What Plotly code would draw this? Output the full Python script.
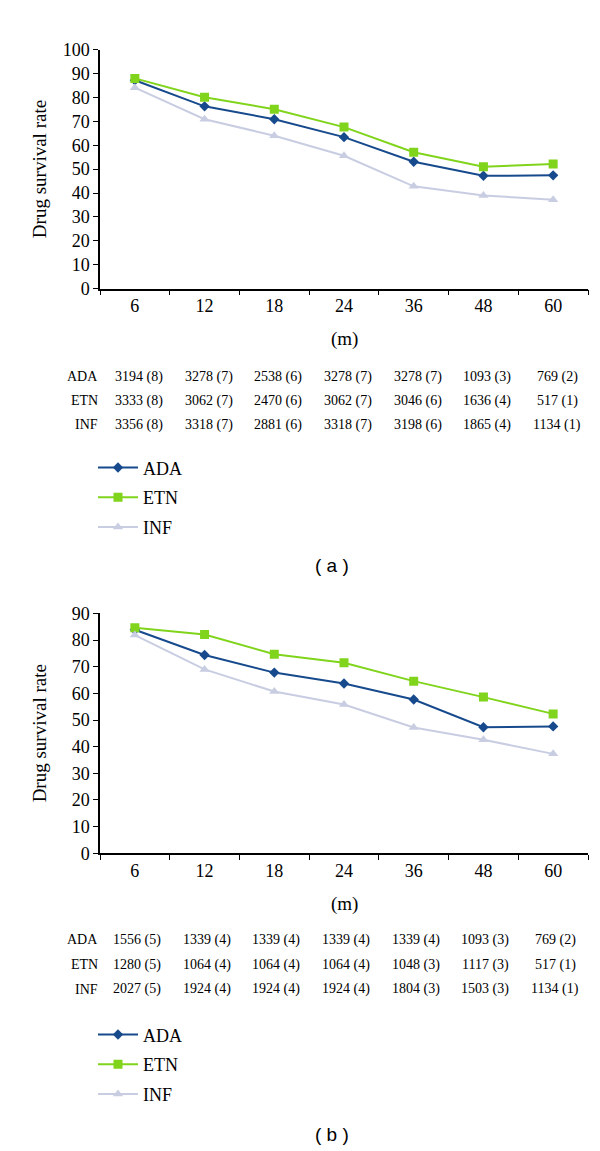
import plotly.graph_objects as go

W, H = 600, 1151

months = ["6", "12", "18", "24", "36", "48", "60"]
series_names = ["ADA", "ETN", "INF"]

# Panel (a) drug survival rates
a_ada = [87.2, 76.3, 70.9, 63.4, 53.1, 47.2, 47.4]
a_etn = [88.0, 80.1, 75.1, 67.6, 57.1, 51.0, 52.2]
a_inf = [84.1, 70.9, 64.0, 55.6, 42.8, 39.0, 37.2]

# Panel (b) drug survival rates
b_ada = [83.9, 74.4, 67.8, 63.7, 57.7, 47.3, 47.6]
b_etn = [84.6, 82.1, 74.7, 71.5, 64.6, 58.6, 52.3]
b_inf = [81.9, 69.0, 60.7, 55.8, 47.2, 42.6, 37.3]

# Number-at-risk tables
a_tab_ada = ["3194 (8)", "3278 (7)", "2538 (6)", "3278 (7)", "3278 (7)", "1093 (3)", "769 (2)"]
a_tab_etn = ["3333 (8)", "3062 (7)", "2470 (6)", "3062 (7)", "3046 (6)", "1636 (4)", "517 (1)"]
a_tab_inf = ["3356 (8)", "3318 (7)", "2881 (6)", "3318 (7)", "3198 (6)", "1865 (4)", "1134 (1)"]

b_tab_ada = ["1556 (5)", "1339 (4)", "1339 (4)", "1339 (4)", "1339 (4)", "1093 (3)", "769 (2)"]
b_tab_etn = ["1280 (5)", "1064 (4)", "1064 (4)", "1064 (4)", "1048 (3)", "1117 (3)", "517 (1)"]
b_tab_inf = ["2027 (5)", "1924 (4)", "1924 (4)", "1924 (4)", "1804 (3)", "1503 (3)", "1134 (1)"]

a_range = [0, 100]
b_range = [0, 90]

colors = {"ADA": "#174A8C", "ETN": "#80D41C", "INF": "#C8CDE2"}
symbols = {"ADA": "diamond", "ETN": "square", "INF": "triangle-up"}
sizes = {"ADA": 8, "ETN": 9, "INF": 9}

SERIF = "Liberation Serif, Times New Roman, serif"
SANS = "Liberation Sans, Arial, sans-serif"


def py(p):
    return 1 - p / H


def px(p):
    return p / W


fig = go.Figure()

panels = [
    ("x", "y", "legend", [a_ada, a_etn, a_inf]),
    ("x2", "y2", "legend2", [b_ada, b_etn, b_inf]),
]
for xa, ya, leg, data in panels:
    for name, vals in zip(series_names, data):
        fig.add_trace(go.Scatter(
            x=months, y=vals, name=name, mode="lines+markers",
            xaxis=xa, yaxis=ya, legend=leg, legendgroup=name + leg,
            line=dict(color=colors[name], width=2),
            marker=dict(symbol=symbols[name], size=sizes[name], color=colors[name]),
        ))

axis_common = dict(
    showline=True, linecolor="black", linewidth=1.5,
    ticks="outside", ticklen=5, tickcolor="black", tickwidth=1.2,
    showgrid=False, zeroline=False,
    tickfont=dict(family=SERIF, size=18, color="black"),
)

x0, x1 = px(92), px(580)
xr = [-0.5, len(months) - 0.5]
legend_common = dict(
    x=px(85), xanchor="left", yanchor="top",
    font=dict(family=SERIF, size=18, color="black"),
    itemwidth=40, tracegroupgap=3.3, traceorder="grouped",
    bgcolor="rgba(0,0,0,0)",
)
fig.update_layout(
    width=W, height=H,
    margin=dict(l=0, r=0, t=0, b=0),
    paper_bgcolor="white", plot_bgcolor="white",
    xaxis=dict(domain=[x0, x1], anchor="y", type="category", range=xr,
               tickson="boundaries", tickangle=0, **axis_common),
    yaxis=dict(domain=[py(275.3), py(32.3)], anchor="x", range=a_range,
               dtick=10, **axis_common),
    xaxis2=dict(domain=[x0, x1], anchor="y2", type="category", range=xr,
                tickson="boundaries", tickangle=0, **axis_common),
    yaxis2=dict(domain=[py(850), py(606)], anchor="x2", range=b_range,
                dtick=10, **axis_common),
    legend=dict(y=py(439), **legend_common),
    legend2=dict(y=py(1016), **legend_common),
    showlegend=True,
)

ann = []
# y-axis titles
for yc in [(275.3 + 32.3) / 2, (850 + 606) / 2]:
    ann.append(dict(text="Drug survival rate", x=px(31), y=py(yc), xref="paper", yref="paper",
                    textangle=-90, showarrow=False, xanchor="center", yanchor="middle",
                    font=dict(family=SERIF, size=19, color="black")))
# (m) labels
for yc in [326.7, 901.7]:
    ann.append(dict(text="(m)", x=(x0 + x1) / 2, y=py(yc), xref="paper", yref="paper",
                    showarrow=False, xanchor="center", yanchor="middle",
                    font=dict(family=SERIF, size=19, color="black")))

# tables (x positions are category indices on the category axis)
tables = [
    ("x", [365, 389.5, 414], [a_tab_ada, a_tab_etn, a_tab_inf], 4),
    ("x2", [938.3, 963.3, 988.3], [b_tab_ada, b_tab_etn, b_tab_inf], 2),
]
for xref, rows_y, rows, shift in tables:
    for name, ry, row in zip(series_names, rows_y, rows):
        ann.append(dict(text=name, x=x0, y=py(ry), xref="paper", yref="paper",
                        showarrow=False, xanchor="right", yanchor="middle",
                        font=dict(family=SERIF, size=14, color="black")))
        for i, txt in enumerate(row):
            ann.append(dict(text=txt, x=i, y=py(ry), xref=xref, yref="paper",
                            showarrow=False, xanchor="center", yanchor="middle", xshift=shift,
                            font=dict(family=SERIF, size=14, color="black")))

# panel labels
for lab, yc in [("( a )", 557), ("( b )", 1136)]:
    ann.append(dict(text=lab, x=px(324), y=py(yc), xref="paper", yref="paper",
                    showarrow=False, xanchor="center", yanchor="middle",
                    font=dict(family=SANS, size=19, color="black")))

fig.update_layout(annotations=ann)
fig.write_html("out.html")
